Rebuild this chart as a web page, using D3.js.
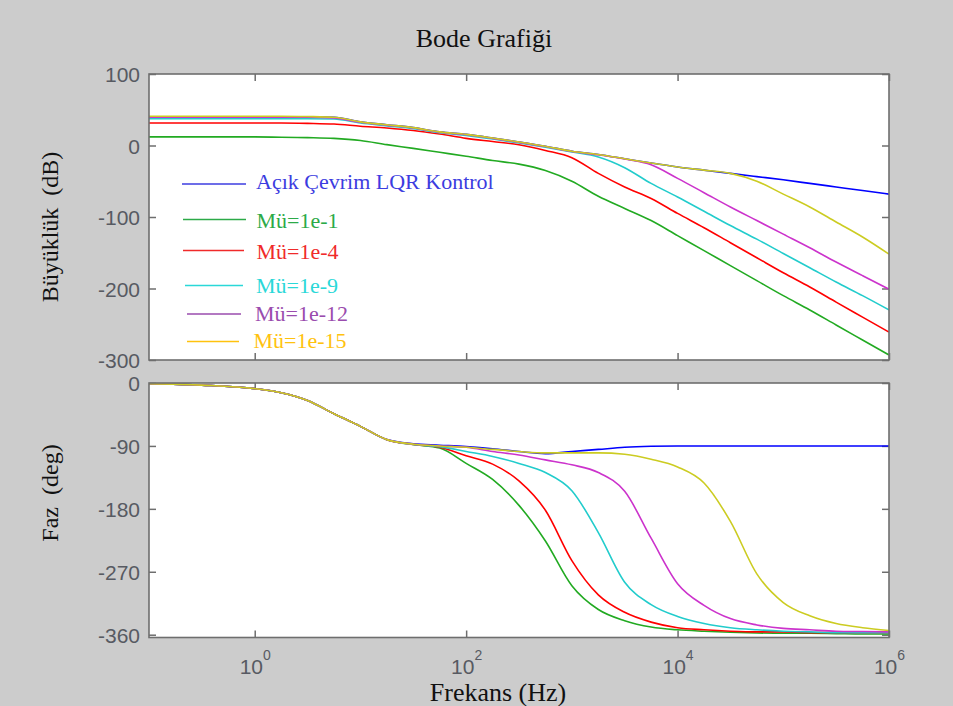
<!DOCTYPE html>
<html><head><meta charset="utf-8">
<script src="https://cdn.jsdelivr.net/npm/d3@7"></script>
<style>
html,body{margin:0;padding:0;background:#cccccc;}
svg{display:block;}
</style></head><body>
<svg id="chart" width="953" height="706"></svg>
<script>
// ---------------- data ----------------
const frequencies = [0.1, 0.316, 1, 1.78, 3.16, 5.62, 10, 17.8, 31.6, 56.2, 100, 178, 316, 562, 1000, 1780, 3160, 5620, 10000, 17800, 31600, 56200, 100000, 178000, 316000, 562000, 1000000];
const seriesNames = ["Açık Çevrim LQR Kontrol", "Mü=1e-1", "Mü=1e-4", "Mü=1e-9", "Mü=1e-12", "Mü=1e-15"];

const magOpen  = [40, 40, 40, 40, 40, 39.5, 33, 29, 25, 19, 15.5, 10.5, 5, -1, -8, -12.5, -18.5, -24.5, -30, -34.5, -39, -43.5, -48, -53, -58, -63, -68];
const magMu1   = [12, 12, 12, 11.5, 11, 10, 7, 1.2, -4, -9.5, -15, -21, -26, -35, -50, -71, -88, -105, -126, -147, -168, -189, -210, -230, -251, -272, -293];
const magMu4   = [31.5, 31.5, 31.5, 31.5, 31, 30, 27, 24.5, 21, 16, 10, 5.5, 1, -7, -17, -39, -58, -74, -95, -115, -136, -157, -178, -198, -219, -240, -261];
const magMu9   = [37.5, 37.5, 37.5, 37.5, 37.5, 37, 31.5, 27.5, 23.5, 18, 14, 9, 3.5, -2.5, -9, -16, -31, -53, -72, -92, -112, -131, -151, -171, -191, -210, -230];
const magMu12  = [39.5, 39.5, 39.5, 39.5, 39.5, 38.5, 32.5, 28.5, 24.5, 18.5, 15, 10, 4.5, -1.5, -8.5, -13, -19, -27, -46, -66, -86, -105, -124, -143, -163, -182, -201];
const magMu15  = [41, 41, 41, 41, 40.5, 39.5, 33, 29, 25, 19, 15.5, 10.5, 5, -1, -8, -12.5, -18.5, -24.5, -30, -34.5, -39, -50, -68, -86, -107, -128, -152];

const phOpen   = [-1, -3, -8, -14, -25, -44, -62, -81, -87, -89, -91, -94, -98, -101, -98, -95, -92, -90.5, -90, -90, -90, -90, -90, -90, -90, -90, -90];
const phMu1    = [-1, -3, -8, -14, -25, -44, -62, -81, -88, -93, -115, -138, -175, -226, -290, -324, -340, -349, -353, -355, -356.5, -357.5, -358, -358, -358.5, -359, -359];
const phMu4    = [-1, -3, -8, -14, -25, -44, -62, -81, -88, -92, -104, -116, -140, -182, -254, -303, -328, -342, -350, -353, -355, -356, -356, -357, -357, -357, -357];
const phMu9    = [-1, -3, -8, -14, -25, -44, -62, -81, -88, -91, -98, -105, -115, -128, -154, -214, -285, -317, -334, -344, -350, -353, -355, -356, -357, -357, -357];
const phMu12   = [-1, -3, -8, -14, -25, -44, -62, -81, -87.5, -90, -92, -98, -103, -110, -117, -128, -155, -222, -287, -318, -337, -346, -351, -353, -355, -355.5, -356];
const phMu15   = [-1, -3, -8, -14, -25, -44, -62, -81, -87.5, -90, -92, -95, -98, -100, -100, -100, -102, -109, -120, -143, -198, -273, -314, -333, -344, -350, -354];

const magTicks = [100, 0, -100, -200, -300];
const phaseTicks = [0, -90, -180, -270, -360];
const freqTicks = [1, 100, 10000, 1000000];
const freqTickExponents = ["0", "2", "4", "6"];

const titleText = "Bode Grafiği";
const magLabel = "Büyüklük  (dB)";
const phaseLabel = "Faz  (deg)";
const freqLabel = "Frekans (Hz)";

// ---------------- styles / layout ----------------
const lineColors   = ["#0000ff", "#22aa22", "#ff0000", "#22cccc", "#cc33cc", "#cccc22"];
const legendColors = ["#3c3ce0", "#2caa48", "#f02a2a", "#2ad8d8", "#9a4cae", "#ffc20e"];
// legend layout: [lineX1, lineX2, lineY, textX, textBaseline]
const legendLayout = [
  [182, 246, 184, 256, 188.5],
  [183, 246, 219.5, 256.5, 227.5],
  [183, 244, 250.5, 256.5, 259],
  [185, 243, 285.5, 256, 292.5],
  [187, 241, 314, 255, 321],
  [187, 239, 341.5, 253.5, 347.5]
];

const plotL = 149, plotR = 889;
const magT = 74, magB = 360;
const phT = 383, phB = 637.5;

const svg = d3.select("#chart");
svg.append("rect").attr("width", 953).attr("height", 706).attr("fill", "#cccccc");

const x = d3.scaleLog().domain([0.1, 1e6]).range([plotL, plotR]);
const yMag = d3.scaleLinear().domain([-300, 100]).range([magB, magT]);
const yPh = d3.scaleLinear().domain([-364, 0]).range([phB, phT]);

const defs = svg.append("defs");
defs.append("clipPath").attr("id", "clipMag").append("rect")
  .attr("x", plotL).attr("y", magT).attr("width", plotR - plotL).attr("height", magB - magT);
defs.append("clipPath").attr("id", "clipPh").append("rect")
  .attr("x", plotL).attr("y", phT).attr("width", plotR - plotL).attr("height", phB - phT);

const axisColor = "#6e6e6e";
const tickFont = "Liberation Sans, Arial, sans-serif";
const tickColor = "#575a62";
const serif = "Liberation Serif, Times New Roman, serif";

function panel(yScale, top, bottom, ticks, clipId, seriesList, showXLabels) {
  svg.append("rect").attr("x", plotL).attr("y", top).attr("width", plotR - plotL).attr("height", bottom - top)
    .attr("fill", "#ffffff");

  const g = svg.append("g");
  const ax = g.append("g").attr("transform", `translate(${plotL},0)`)
    .call(d3.axisLeft(yScale).tickValues(ticks).tickSize(-7).tickSizeOuter(0).tickPadding(9)
      .tickFormat(d => String(d)));
  const ar = g.append("g").attr("transform", `translate(${plotR},0)`)
    .call(d3.axisRight(yScale).tickValues(ticks).tickSize(-7).tickSizeOuter(0).tickFormat(""));
  const at = g.append("g").attr("transform", `translate(0,${top})`)
    .call(d3.axisTop(x).tickValues(freqTicks).tickSize(-7).tickSizeOuter(0).tickFormat(""));
  const ab = g.append("g").attr("transform", `translate(0,${bottom})`)
    .call(d3.axisBottom(x).tickValues(freqTicks).tickSize(-7).tickSizeOuter(0).tickFormat(showXLabels ? () => "10" : ""));
  [ax, ar, at, ab].forEach(a => {
    a.select(".domain").remove();
    a.selectAll(".tick line").attr("stroke", axisColor).attr("stroke-width", 1.5);
    a.selectAll("text").attr("font-family", tickFont).attr("font-size", 21).attr("fill", tickColor);
  });
  ax.selectAll("text").attr("dy", "0.36em");
  if (showXLabels) {
    ab.selectAll(".tick text").each(function (d, i) {
      const t = d3.select(this);
      t.text(null).attr("y", 0).attr("dy", null).attr("transform", "translate(0,36)");
      t.append("tspan").text("10");
      t.append("tspan").attr("font-size", 14).attr("dy", -14).text(freqTickExponents[i]);
    });
  }

  const line = d3.line().x((d, i) => x(frequencies[i])).y(d => yScale(d)).curve(d3.curveMonotoneX);
  const lg = svg.append("g").attr("clip-path", `url(#${clipId})`);
  seriesList.forEach((s, k) => {
    lg.append("path").attr("d", line(s)).attr("fill", "none")
      .attr("stroke", lineColors[k]).attr("stroke-width", 1.6).attr("stroke-linejoin", "round");
  });

  svg.append("rect").attr("x", plotL).attr("y", top).attr("width", plotR - plotL).attr("height", bottom - top)
    .attr("fill", "none").attr("stroke", axisColor).attr("stroke-width", 1.6);
}

panel(yMag, magT, magB, magTicks, "clipMag", [magOpen, magMu1, magMu4, magMu9, magMu12, magMu15], false);
panel(yPh, phT, phB, phaseTicks, "clipPh", [phOpen, phMu1, phMu4, phMu9, phMu12, phMu15], true);

// legend
const leg = svg.append("g");
seriesNames.forEach((name, i) => {
  const L = legendLayout[i];
  leg.append("line").attr("x1", L[0]).attr("x2", L[1]).attr("y1", L[2]).attr("y2", L[2])
    .attr("stroke", legendColors[i]).attr("stroke-width", 1.5);
  leg.append("text").attr("x", L[3]).attr("y", L[4]).text(name)
    .attr("font-family", serif).attr("font-size", 22).attr("fill", legendColors[i]);
});

// titles
svg.append("text").attr("x", 484).attr("y", 47).attr("text-anchor", "middle")
  .attr("font-family", serif).attr("font-size", 26).attr("fill", "#111").text(titleText);
svg.append("text").attr("x", 498).attr("y", 701).attr("text-anchor", "middle")
  .attr("font-family", serif).attr("font-size", 26).attr("fill", "#111").text(freqLabel);
svg.append("text").attr("transform", "translate(58,227) rotate(-90)").attr("text-anchor", "middle")
  .style("white-space", "pre")
  .attr("font-family", serif).attr("font-size", 24).attr("fill", "#111").text(magLabel);
svg.append("text").attr("transform", "translate(58,493) rotate(-90)").attr("text-anchor", "middle")
  .style("white-space", "pre")
  .attr("font-family", serif).attr("font-size", 24).attr("fill", "#111").text(phaseLabel);
</script>
</body></html>
